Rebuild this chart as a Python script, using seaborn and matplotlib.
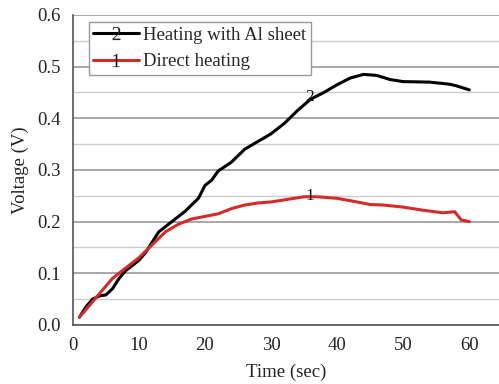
import numpy as np
import pandas as pd
import matplotlib
matplotlib.use("Agg")
import matplotlib.pyplot as plt
import seaborn as sns
from matplotlib.lines import Line2D
from matplotlib.ticker import MultipleLocator

# Data
t_al = [1, 2, 3, 4, 5, 6, 7, 8, 10, 11, 12, 13, 15, 17, 19, 20, 21, 22, 24, 26, 28, 30, 32, 34, 36, 38, 40, 42, 44, 46, 48, 50, 54, 57, 58, 60]
v_al = [0.015, 0.035, 0.05, 0.056, 0.058, 0.07, 0.09, 0.105, 0.125, 0.14, 0.16, 0.18, 0.2, 0.22, 0.245, 0.27, 0.28, 0.298, 0.315, 0.34, 0.355, 0.37, 0.39, 0.415, 0.437, 0.45, 0.465, 0.478, 0.485, 0.483, 0.475, 0.471, 0.47, 0.466, 0.463, 0.455]

t_direct = [1, 2, 3, 4, 5, 6, 8, 10, 12, 14, 16, 18, 20, 22, 24, 26, 28, 30, 33, 35, 37, 40, 43, 45, 47, 50, 53, 56, 57.8, 58.8, 60]
v_direct = [0.015, 0.03, 0.045, 0.06, 0.075, 0.09, 0.11, 0.13, 0.155, 0.18, 0.195, 0.205, 0.21, 0.215, 0.225, 0.232, 0.236, 0.238, 0.244, 0.248, 0.248, 0.245, 0.238, 0.233, 0.232, 0.228, 0.222, 0.217, 0.219, 0.203, 0.2]

labels = ["Heating with Al sheet", "Direct heating"]
x_label = "Time (sec)"
y_label = "Voltage (V)"

df = pd.concat([
    pd.DataFrame({"t": t_al, "v": v_al, "s": labels[0]}),
    pd.DataFrame({"t": t_direct, "v": v_direct, "s": labels[1]}),
])

sns.set_style("white")
plt.rcParams["font.family"] = ["Liberation Serif", "DejaVu Serif"]
plt.rcParams["mathtext.fontset"] = "custom"
plt.rcParams["mathtext.rm"] = "Liberation Serif"
plt.rcParams["mathtext.it"] = "Liberation Serif"

fig = plt.figure(figsize=(4.99, 3.84), dpi=100)
ax = fig.add_axes([0.146, 0.154, 0.854, 0.807])

sns.lineplot(data=df, x="t", y="v", hue="s", palette={labels[0]: "black", labels[1]: "#d42a2a"},
             linewidth=2.2, legend=False, ax=ax, sort=False)

ax.set_xlim(0, 64.5)
ax.set_ylim(0, 0.6)
ax.xaxis.set_major_locator(MultipleLocator(10))
ax.xaxis.set_minor_locator(MultipleLocator(5))
ax.yaxis.set_major_locator(MultipleLocator(0.1))
ax.yaxis.set_minor_locator(MultipleLocator(0.05))
ax.yaxis.set_major_formatter(matplotlib.ticker.FormatStrFormatter("%.1f"))
ax.grid(True, which="major", axis="y", color="#999999", linewidth=1.2)
ax.grid(True, which="minor", axis="y", color="#cccccc", linewidth=1.0)
ax.set_axisbelow(True)
for s in ["top", "right"]:
    ax.spines[s].set_visible(False)
for s in ["left", "bottom"]:
    ax.spines[s].set_color("#555555")
    ax.spines[s].set_linewidth(1.2)
ax.tick_params(which="both", direction="out", color="#555555", labelsize=13.5, labelcolor="#222222")
ax.tick_params(which="major", length=5, width=1.2)
ax.tick_params(which="minor", length=3, width=1.0)
ax.set_xlabel(x_label, fontsize=13.5, color="#222222", labelpad=7)
ax.set_ylabel(y_label, fontsize=13.5, color="#222222", labelpad=6)

ax.text(35.9, 0.441, "2", fontsize=12.5, ha="center", va="center", color="#111111")
ax.text(35.9, 0.25, "1", fontsize=12.5, ha="center", va="center", color="#111111")

handles = [
    Line2D([], [], color="black", lw=2.2, marker="$2$", markersize=9.5, markerfacecolor="#222222", markeredgecolor="#222222", markeredgewidth=0),
    Line2D([], [], color="#d42a2a", lw=2.2, marker="$1$", markersize=9.5, markerfacecolor="#222222", markeredgecolor="#222222", markeredgewidth=0),
]
leg = ax.legend(handles, labels, loc="upper left", bbox_to_anchor=(0.037, 0.978), fontsize=13.5,
                frameon=True, fancybox=False, edgecolor="#999999", framealpha=1, numpoints=1,
                handlelength=2.45, handletextpad=0.2, borderpad=0.25, labelspacing=0.5, borderaxespad=0)
leg.get_frame().set_linewidth(1.0)

fig.savefig("out.png", dpi=100)
